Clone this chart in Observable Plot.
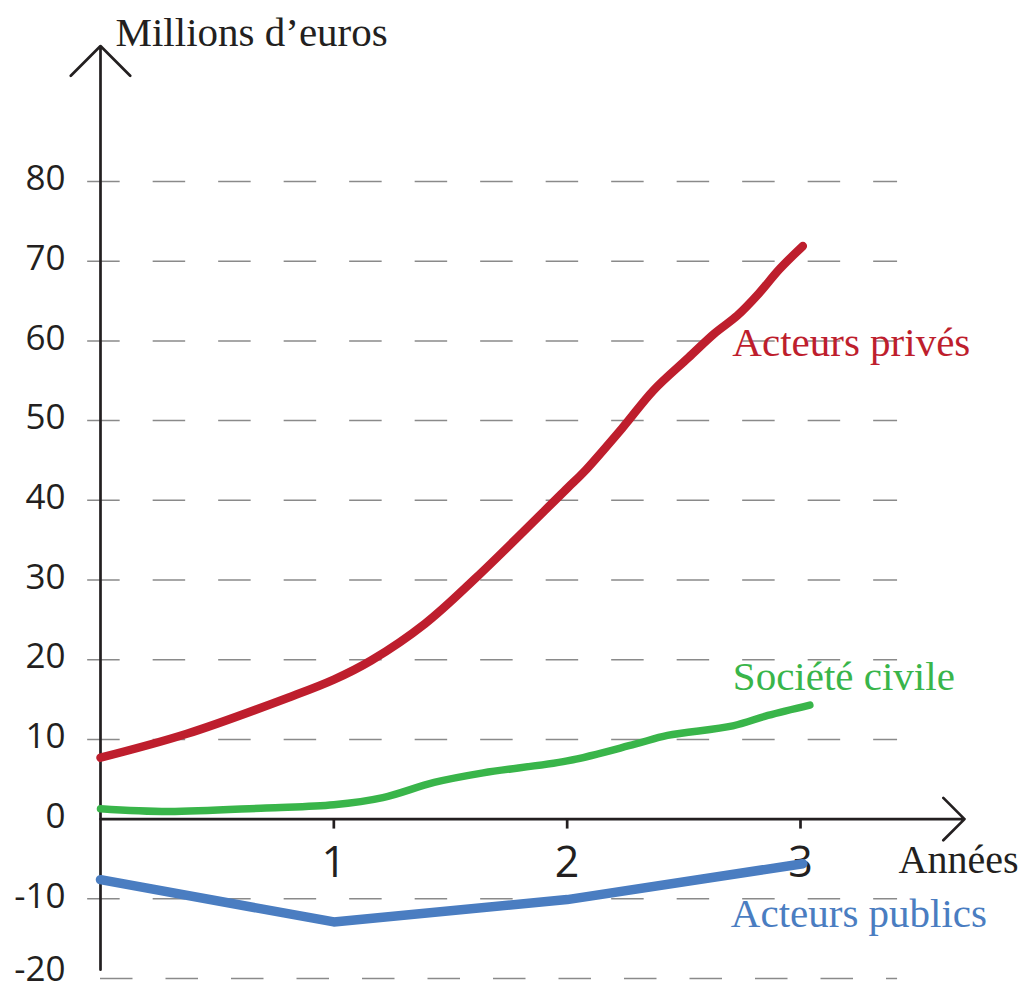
<!DOCTYPE html>
<html>
<head>
<meta charset="utf-8">
<script src="https://cdn.jsdelivr.net/npm/d3@7"></script>
<script src="https://cdn.jsdelivr.net/npm/@observablehq/plot@0.6"></script>
<style>
  html, body { margin: 0; padding: 0; background: #fff; overflow: hidden; }
</style>
</head>
<body>
<div id="chart"></div>
<script>
// ---- Data ----
const yearsPrive  = [0, 0.37, 0.81, 1.0, 1.16, 1.39, 1.61, 2.0, 2.07, 2.24, 2.37, 2.52, 2.63, 2.73, 2.82, 2.91, 3.01];
const valuesPrive = [7.7, 10.7, 15.3, 17.5, 19.9, 24.5, 30.3, 41.5, 43.5, 49.2, 53.8, 57.9, 60.9, 63.2, 65.9, 69.0, 71.9];

const yearsCivile  = [0, 0.29, 0.71, 1.0, 1.21, 1.43, 1.64, 2.0, 2.29, 2.43, 2.71, 2.86, 3.04];
const valuesCivile = [1.3, 0.95, 1.4, 1.8, 2.7, 4.6, 5.8, 7.3, 9.4, 10.5, 11.7, 13.0, 14.3];

const yearsPublic  = [0, 1, 2, 3.01];
const valuesPublic = [-7.6, -12.9, -10.1, -5.6];

const seriesNames = ["Acteurs privés", "Société civile", "Acteurs publics"];
const xTicks = [1, 2, 3];
const yTicks = [-20, -10, 0, 10, 20, 30, 40, 50, 60, 70, 80];
const yLabel = "Millions d’euros";
const xLabel = "Années";

// ---- Build tables ----
const toRows = (xs, ys, name) => xs.map((x, i) => ({ year: x, value: ys[i], series: name }));
const prive  = toRows(yearsPrive, valuesPrive, seriesNames[0]);
const civile = toRows(yearsCivile, valuesCivile, seriesNames[1]);
const publi  = toRows(yearsPublic, valuesPublic, seriesNames[2]);

const ink = "#231F20";
const gridColor = "#8a8a8a";
const red = "#BE1E2D", green = "#39B54A", blue = "#4A7DC1";
const serif = "Liberation Serif, 'Times New Roman', serif";
const sans = "'Open Sans', 'Noto Sans', sans-serif";

const yMin = d3.min(yTicks), yMax = d3.max(yTicks);
const xMax = d3.max(xTicks);
const axisW = 2.7;
const yLabelStyle = { x: 0, y: d => d, text: d => String(d), dx: -35, textAnchor: "end", fontSize: 35, fontFamily: sans, fill: ink };

const chart = Plot.plot({
  width: 1026,
  height: 990,
  marginLeft: 100,
  marginRight: 226,
  marginTop: 181,
  marginBottom: 12,
  x: { domain: [0, xMax], axis: null },
  y: { domain: [yMin, yMax], axis: null },
  style: { background: "#fff", overflow: "visible" },
  marks: [
    // dashed grid
    Plot.ruleY(yTicks.filter(d => d !== 0 && d !== yMin), {
      x1: -0.055, x2: 3.416, stroke: gridColor, strokeWidth: 1.5, strokeDasharray: "32.5,33"
    }),
    Plot.ruleY([yMin], {
      x1: 0, x2: 3.416, stroke: gridColor, strokeWidth: 1.5, strokeDasharray: "32.5,33"
    }),
    // axes with arrowheads
    Plot.arrow([0], {
      x1: 0, y1: -18.9, x2: 0, y2: 97,
      stroke: ink, strokeWidth: axisW, headAngle: 90, headLength: 42 * 1.5 / axisW
    }),
    Plot.arrow([0], {
      x1: 0, y1: 0, x2: 3.703, y2: 0,
      stroke: ink, strokeWidth: axisW, headAngle: 90, headLength: 30 * 1.5 / axisW
    }),
    // x ticks
    Plot.ruleX(xTicks, { x: d => d, y1: 0, y2: -1.25, stroke: ink, strokeWidth: axisW }),
    Plot.text(xTicks, {
      x: d => d, y: 0, text: d => String(d), dy: 58, lineAnchor: "bottom",
      fontSize: 43, fontFamily: sans, fill: ink
    }),
    // y tick labels (lowest one nudged up so it stays inside the picture)
    Plot.text(yTicks.filter(d => d !== yMin), { ...yLabelStyle, dy: -2.5 }),
    Plot.text([yMin], { ...yLabelStyle, dy: -9 }),
    // axis titles
    Plot.text([yLabel], {
      frameAnchor: "top-left", dx: 15, dy: -136, textAnchor: "start", lineAnchor: "bottom",
      fontSize: 41, fontFamily: serif, fill: ink
    }),
    Plot.text([xLabel], {
      x: xMax, y: 0, dx: 98, dy: 53.5, textAnchor: "start", lineAnchor: "bottom",
      fontSize: 40, fontFamily: serif, fill: ink
    }),
    // series lines
    Plot.line(civile, { x: "year", y: "value", stroke: green, strokeWidth: 7.5, curve: "catmull-rom", strokeLinecap: "round", strokeLinejoin: "round" }),
    Plot.line(publi,  { x: "year", y: "value", stroke: blue,  strokeWidth: 9.5, curve: "linear", strokeLinecap: "round", strokeLinejoin: "round" }),
    Plot.line(prive,  { x: "year", y: "value", stroke: red,   strokeWidth: 8.5, curve: "catmull-rom", strokeLinecap: "round", strokeLinejoin: "round" }),
    // series labels
    Plot.text(prive, Plot.selectLast({
      x: "year", y: "value", text: "series", dx: -70.5, dy: 110, textAnchor: "start", lineAnchor: "bottom",
      fontSize: 41, fontFamily: serif, fill: red
    })),
    Plot.text(civile, Plot.selectLast({
      x: "year", y: "value", text: "series", dx: -77, dy: -15.5, textAnchor: "start", lineAnchor: "bottom",
      fontSize: 41, fontFamily: serif, fill: green
    })),
    Plot.text(publi, Plot.selectLast({
      x: "year", y: "value", text: "series", dx: -72, dy: 63, textAnchor: "start", lineAnchor: "bottom",
      fontSize: 41, fontFamily: serif, fill: blue
    }))
  ]
});

document.getElementById("chart").appendChild(chart);
</script>
</body>
</html>
